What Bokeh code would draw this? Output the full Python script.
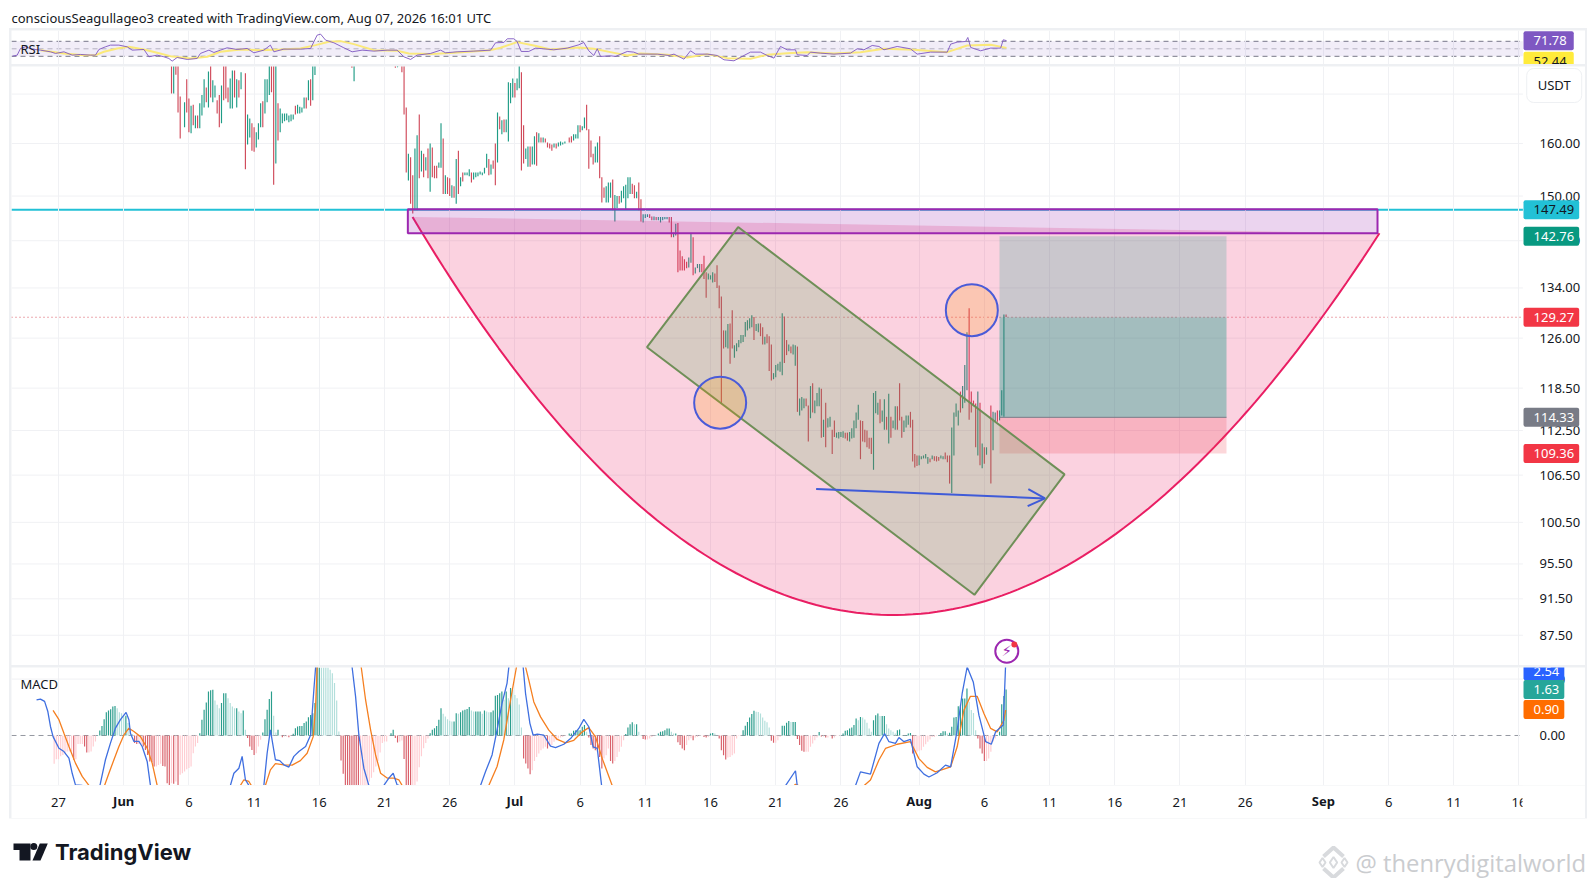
import math
from bokeh.plotting import figure
from bokeh.layouts import column
from bokeh.models import (Range1d, FixedTicker, Grid, Label, BoxAnnotation, Arrow, OpenHead, LinearAxis,
                          NumeralTickFormatter, ColumnDataSource)
from bokeh.core.properties import value
from bokeh.embed import file_html
from bokeh.resources import INLINE

FONT = "Noto Sans"
# ---------------- data ----------------
day_ticks = [0, 10, 15, 20, 25, 30, 40, 45, 50, 55, 60, 71, 76, 81, 86, 91, 102, 107, 112]
day_text = ["27", "6", "11", "16", "21", "26", "6", "11", "16", "21", "26", "6", "11", "16", "21", "26", "6", "11", "16"]
month_ticks = [5, 35, 66, 97]
month_text = ["Jun", "Jul", "Aug", "Sep"]
price_ticks = [170, 160, 150, 142, 134, 126, 118.5, 112.5, 106.5, 100.5, 95.5, 91.5, 87.5]
macd_ticks = [0, 2]

bar_slot = [*range(52, 57), *range(58, 85), *range(86, 119), 135, 136, 155, 156,
            *range(158, 234), *range(235, 428), *range(429, 437)]
bar_dir = ("rgrrr" + "grrgrgrggg" "rgrggrrgrr" "rggrgrg" + "rggrrgggrg" "ggrrgrgggg" "gggrggggrg" "rgg" + "rgrg"
           + "rrrgrrggrg" "rgrgrrrggr" "grrgrgrgrg" "ggrggggggg" "rgrrgrgrgg" "ggrggrrggr" "ggrgrgrrrr" "grgggg"
           + "rrgggrggrr" "rrggrrrggg" "rggrgggggr" "rgrrgggrrg" "rgggggrrgg" "rrrrrggrgg" "grrrgggrrr" "rrggrrgggg"
             "gggggrggrr" "grrrgggggr" "rgrggrgggr" "rgrgggrgrg" "grrggggrrg" "ggggrrrrrr" "gggrggrgrg" "grrrgggrrr"
             "rgggggrgrr" "rggrrrgggg" "rgggrrrrgr" "grg"
           + "rggrgggr")
bar_high = [178, 178, 178, 178, 169.5,
    168.3, 173.1, 169.1, 167.6, 167.8, 165.6, 165.6, 168.1, 169.8, 173.1,
    171.4, 174.8, 178, 172.9, 171.8, 168.7, 169.8, 171.8, 178, 178,
    171.4, 173.3, 175, 175, 173.1, 172.9, 174.6,
    174.4, 165.8, 165, 164, 163.2, 162.2, 164, 168.1, 168.5, 173.1,
    173.1, 178, 178, 178, 178, 168.1, 167, 166, 166, 166,
    165.6, 165.8, 165.8, 167.6, 167.8, 167.4, 167.2, 169.3, 169.3, 172.9,
    173.1, 178, 178,
    178, 178, 178, 178,
    178, 178, 167.2, 158, 157.3, 153.9, 159, 161.6, 165.8, 158.6,
    158, 157.3, 159, 160, 159.2, 155.7, 155.7, 156.3, 164, 161,
    153.9, 153.5, 153.3, 152, 151.8, 157, 158.6, 153.5, 154.4, 154.4,
    154.4, 155, 154.4, 154.4, 154.4, 154.4, 154.6, 154.4, 155.3, 158,
    157, 155.9, 156.7, 160, 166.2, 165.4, 164.6, 164.8, 164.8, 172.5,
    172.3, 173.3, 172.3, 173.3, 178, 174.6, 163.6, 159, 159.4, 159.4,
    159.4, 161.4, 162.2, 162, 161.2, 161.2, 161, 160.2, 160, 159.8,
    160, 160, 160.2, 160.4, 160.2, 160.4,
    161.2, 161.4, 161.8, 161.8, 163.6, 163.6, 163.4, 165.2, 167.8, 162.8,
    160.6, 158, 159.4, 160.2, 161.4, 153.5, 151.6, 151.8, 152.5, 152.5,
    153.1, 150.2, 150, 150, 151, 151.8, 152.1, 153.5, 153.5, 152.3,
    152, 150.8, 152.5, 149.4, 146.7, 146.7, 146.7, 146.7, 146.3, 146.3,
    146.2, 146.2, 146.2, 146.2, 146.2, 146.2, 146.2, 146.2, 143.4, 145,
    145.1, 140.3, 139.3, 138.8, 138.4, 139.1, 143.3, 142.6, 137.4, 138,
    138, 138, 139.4, 136.6, 136.4, 136.1, 136.6, 136.4, 137.8, 134.4,
    132.6, 127.2, 127.2, 128.2, 128.3, 130.4, 124.9, 125.2, 125.7, 126.5,
    126.5, 128.5, 128.8, 129.1, 129.6, 129.3, 128.2, 128.3, 128.3, 127.7,
    126.2, 126.6, 126.3, 125, 120.7, 121.9, 122.1, 122.4, 129.9, 129.4,
    125.7, 125, 124.7, 125, 124.9, 124.7, 117, 117.2, 117, 117,
    116, 118.8, 119.2, 116.7, 117.8, 118.6, 118.4, 114, 116.4, 114.2,
    114.4, 112.6, 113.9, 112.2, 112.3, 112.3, 112.4, 112.2, 112.2, 112.3,
    112.8, 113.9, 115, 116.1, 113.9, 113.8, 112.6, 112.5, 111.5, 111.5,
    117.8, 118.1, 116.4, 116.9, 115.3, 116.9, 114.4, 117.7, 114.4, 113.9,
    115.9, 115.9, 119.2, 114.4, 113.9, 114.6, 114.6, 115.1, 114, 109.3,
    109.1, 109.1, 109, 109.1, 109.3, 108.9, 108.7, 109.1, 109, 109,
    108.9, 109.1, 109, 109.5, 109.1, 109.1, 112.9, 115, 116.3, 115.3,
    118, 118.8, 121.9, 126.9, 130.7, 118, 116.7, 116.3, 118, 116.4,
    110.7, 110.2, 110.2,
    116, 115.1, 115, 115.3, 115.3, 118.2, 129.7, 129.7]
bar_low = [170.1, 170.1, 174.1, 166.2, 161.0,
    163.2, 166.2, 162.2, 162, 163.6, 163, 163, 163, 165.6, 167.2,
    168.3, 167.2, 169.3, 168.3, 169.3, 166, 163.2, 164, 168.7, 169.1,
    168.3, 167, 167, 169.3, 167.2, 169.3, 171,
    155, 159.8, 161.2, 158.6, 158.4, 159.2, 160.8, 163.2, 163.2, 166,
    168.3, 169.8, 170.4, 152.1, 156.1, 160.6, 162.2, 164, 164.4, 164.6,
    164.2, 164.4, 164.8, 165.8, 166, 166, 166.2, 167, 167, 168.7,
    167.6, 168.7, 174,
    175.6, 172.7, 175.6, 175.7,
    174.6, 165.8, 154.4, 152.9, 148.6, 146.8, 147.4, 147.4, 153.3, 154.6,
    153.5, 154.8, 153.3, 150.8, 153.5, 153.3, 153.3, 155.3, 155.3, 150.4,
    150.4, 150.4, 150, 149.7, 149.7, 148.6, 150.4, 151.8, 152.7, 153.9,
    153.9, 153.7, 152.5, 153.1, 153.5, 153.7, 154, 153.9, 154.2, 155.3,
    153.9, 154, 155.1, 152, 156.3, 162.8, 161.8, 162.2, 162.2, 160.4,
    168.1, 169.3, 169.3, 170.8, 171.2, 154.8, 156.1, 157, 155.5, 155.5,
    155.9, 155.9, 155.7, 160.2, 160.2, 160.2, 160.2, 159.2, 159, 158.6,
    159.2, 159, 159.4, 159.6, 159.8, 160,
    160.2, 160.2, 160.6, 161, 161, 162.2, 162.6, 163, 162.6, 155.1,
    157.3, 155.9, 156.3, 156.3, 153.3, 148.8, 149.7, 148.8, 148.8, 149.7,
    147.4, 145.4, 147.8, 148.6, 148.8, 149.6, 147.6, 149.6, 150.4, 150.4,
    149.6, 149.6, 147.4, 145.4, 145.2, 146, 146.2, 146, 145.6, 145.6,
    145.6, 145.6, 145.2, 145.6, 145.8, 145.8, 145.2, 142.6, 142.6, 142.9,
    136.6, 136.9, 136.9, 136.9, 137.3, 137.4, 138.2, 136.1, 136.4, 137.3,
    136.6, 136.6, 135.5, 132.4, 135.4, 135.4, 134.9, 135, 134, 130.7,
    116.3, 124.4, 124.6, 124.4, 122.1, 124.4, 123, 124, 124.6, 125.2,
    125.4, 126.2, 127.2, 127.5, 127.7, 125.7, 127.1, 126.9, 126.3, 125,
    125, 125.2, 121, 119.6, 119.8, 120.1, 121.1, 120.9, 120.4, 122.2,
    123.4, 124, 123.7, 123.5, 121.8, 115.1, 114.6, 115.3, 115.6, 115.9,
    111, 114.2, 115, 114.9, 115.9, 115.9, 111.5, 111.6, 110.2, 112.9,
    113, 109.3, 111.6, 111.5, 111.4, 111.6, 111.5, 111.4, 111.1, 111,
    111.4, 111.5, 112.8, 114, 108.6, 111, 110.9, 110.2, 110, 109.3,
    107.2, 114.9, 114.7, 113.5, 113.7, 112.6, 112.6, 110.7, 111.5, 112.8,
    112.6, 112.6, 113.9, 111.5, 112.3, 112.9, 113.3, 112.9, 108.3, 107.5,
    107.7, 107.8, 108.6, 108.7, 108.7, 108, 108.2, 108.6, 108.4, 108.3,
    108.4, 108.7, 108.6, 108.6, 108.2, 105.4, 104.2, 109.1, 114.4, 113.2,
    115, 115.6, 116.4, 118.2, 114, 115, 115.9, 110.2, 109.1, 107.8,
    107.4, 108, 109.2,
    105.4, 109.8, 113.7, 113.7, 113.9, 114.6, 114.4, 129.3]

rsi_slot = [-21.2, -19, -17.5, -15.2, -12.1, -8.3, -3.7, -1.4, 2.5, 6.3, 10.1, 14.7, 17, 18.6, 21.6, 23.9, 27.8, 31.6, 33.9, 39.3,
            41.6, 45.4, 48.5, 50.8, 52.3, 54.6, 59.2, 63.8, 65.3, 69.2, 71.5, 74.5, 77.6, 82.2, 86.8, 89.9, 94.5, 97.5, 99.1, 103.7,
            111.3, 116, 117.5, 119, 120.6, 122.9, 126.7, 131.3, 135.1, 139.7, 145.1, 151.2, 155.8, 158.9, 162, 165, 171.2, 175.8, 178.1, 183.4,
            191.1, 198.8, 201.1, 204.9, 206.5, 209.5, 211, 212.9, 216.4, 219.5, 223.3, 227.9, 234.1, 239.4, 241.7, 244, 246.3, 247.9, 249.4, 254,
            256.3, 261.7, 264.7, 267, 275.5, 280.9, 283.2, 287.8, 290.8, 293.1, 298.5, 303.1, 306.2, 310.8, 315.4, 318.4, 323, 326.1, 329.2, 332.2,
            335.3, 339.1, 339.9, 344.5, 346, 350.6, 356.8, 364.4, 367.5, 370.6, 374.4, 377.5, 379.8, 385.9, 392, 395.1, 401.2, 408.9, 410.5, 413.5,
            417.4, 418.4, 419.7, 424.3, 428.9, 433.5, 434.7, 436.2]
rsi_val = [30.4, 33.1, 50.9, 55.3, 49.1, 46.4, 42, 37.6, 42, 33.1, 34.9, 33.1, 33.1, 48.2, 55.3, 59.8, 59.8, 55.3, 46.4, 48.2,
           28.7, 33.1, 28.7, 24.2, 17.1, 26.9, 21.6, 24.2, 37.6, 46.4, 40.2, 46.4, 52.7, 48.2, 50.9, 39.3, 46.4, 59.8, 42, 49.1,
           49.1, 50.9, 68.7, 86.4, 89.1, 73.1, 66, 52.7, 42, 46.4, 43.8, 46.4, 46.4, 28.7, 21.6, 33.1, 37.6, 46.4, 39.3, 42,
           43.8, 46.4, 66, 66.9, 76.7, 76.7, 69.6, 42.9, 42.9, 51.8, 50, 47.3, 51.8, 60.7, 66.9, 44.7, 32.2, 50, 29.6, 31.3,
           29.6, 42.9, 41.1, 35.8, 35.8, 32.2, 35.8, 22.4, 44.7, 35.8, 35.8, 32.2, 20.7, 18, 32.2, 41.1, 41.1, 32.2, 25.1, 56.2,
           47.3, 47.3, 34, 32.2, 41.1, 38.4, 35.8, 38.4, 50, 47.3, 58.9, 56.2, 47.3, 56.2, 50, 35.8, 41.1, 41.1, 62.4, 67.8,
           69.6, 80.2, 53.6, 44.7, 51.8, 51.8, 74, 71.78]
rsi_ma_slot = [-8.3, 2.5, 11.7, 17, 20.9, 27, 32.4, 39.3, 45.4, 51.5, 60.7, 68.4, 74.5, 83.7, 92.9, 102.1, 111.3, 118.3, 124.4, 129.8,
               135.9, 145.1, 155.8, 161.2, 171.2, 181.9, 198.8, 203.4, 211, 218.7, 226.4, 239.4, 246.3, 254, 261.7, 267.8, 280.1, 289.3, 298.5, 307.7,
               318.4, 326.1, 335.3, 344.5, 356.8, 369, 379.8, 393.6, 408.9, 418.1, 428.9, 436.2]
rsi_ma_val = [46.4, 37.6, 33.1, 33.1, 42, 50.9, 55.3, 48.2, 39.3, 30.4, 24.2, 28.7, 42, 48.2, 46.4, 48.2, 50.9, 59.8, 68.7, 70.4,
              62.4, 46.4, 44.7, 37.6, 35.8, 39.3, 46.4, 52.7, 67.8, 58.9, 48.2, 53.6, 50, 41.1, 32.2, 37.6, 34, 26.9, 35.8, 25.1,
              23.3, 34, 38.4, 41.1, 37.6, 41.1, 50, 47.3, 41.1, 58.9, 60.7, 52.44]

hist_val = [-1.0, -.84, -.84, -.74, -.69, -.63, -.57, -.57, -.57, -.86, -.84, -.3, -.3, -.3, -.39, -.6, -.6, -.57, -.39, -.21, .02,
    .18, .34, .58, .82, .89, .93, 1.03, 1.05, .97, .82, .79, .67, .7, .44, .2, .05,
    -.27, -.3, -.3, -.3, -.39, -.51, -.69, -.92, -.95, -1.1, -1.1, -1.05, -1.0, -1.08, -1.1, -1.69, -1.8, -1.69, -1.71, -1.63, -1.8, -1.39, -1.34, -1.28, -1.2, -1.15, -1.1, -.63, -.39, -.27,
    .08, .56, .91, 1.17, 1.56, 1.6, 1.62, 1.24, 1.09, .97, 1.15, 1.5, 1.5, 1.32, 1.15, 1.03, .97, .97, .85, .79, .89, .2,
    -.09, -.39, -.51, -.69, -.63, -.39, -.15,
    .11, .58, .91, 1.29, 1.56, .7, .11, .2, .02,
    -.06, -.04, -.04, -.06, -.01,
    .06, .26, .32, .34, .34, .44, .5, .65, .73, .79, 1.15, 2.7, 2.9, 2.85, 2.8, 2.7, 2.55, 2.33, 2.21, 1.86, 1.24, .14,
    -.89, -1.36, -1.9, -2.2, -2.4, -2.6, -2.8, -3, -3.2, -3, -2.6, -2.2, -1.9, -1.63, -1.5, -1.3, -1.1, -.9, -.6, -.27, -.21, -.21, -.02,
    .08, .2, -.09, -.25, -.21, -.18, -.83, -1.8, -2.1, -2.15, -2.1, -1.9, -1.63, -1.13, -.74, -.45, -.27, -.11,
    .08, .2, .26, .34, .56, .97, .77, .67, .58, .52, .5, .5, .79, .77, .82, .89, .91, .94, 1.01, .89, .85, .85, .85, .85, .77, .89, .85, .82, .82, .89, 1.41, 1.44, 1.5, 1.56, 1.27, 1.56, 1.32, 1.68, 1.62, 1.44, 1.32, 1.1, .28,
    -.82, -.99, -1.17, -1.37, -1.23, -.9, -.76, -.64, -.52, -.46, -.4, -.46, -.38, -.34, -.22, -.17, -.11, -.07, -.05, -.02, -.01,
    .07, .07, .17, .19, .19, .19, .31, .37, .13,
    -.07, -.34, -.46, -.52, -.58, -.76, -1.17, -.82, -.7, -.46, -.9, -.99, -.9, -.76, -.58, -.4, -.17,
    .05, .28, .4, .47, .4, .4, .13, .02,
    -.12, -.14, -.14, -.11, -.05, -.02, .01,
    .07, .13, .15, .19, .25, .25, .13, .07, .07,
    -.24, -.34, -.46, -.52, -.34, -.17, -.1, -.17, -.07, -.05, -.02, -.01, -.05, -.07, -.05,
    .07, .09, .07, .01,
    -.11, -.52, -.7, -.85, -.78, -.76, -.7, -.64, -.11, -.02, -.01,
    .19, .35, .48, .64, .76, .88, .84, .83, .78, .64, .52, .47, .28,
    -.19, -.26, -.26, -.17, -.05,
    .35, .35, .45, .51, .48, .48, .48,
    -.12, -.34, -.54, -.58, -.58, -.58, -.4, -.28, -.17, -.07,
    .12, -.04, -.04, -.07, -.07, -.02, -.11, -.07, -.02, -.01, .01,
    .07, .17, .19, .25, .28, .37, .6, .54, .66, .64, .57, .45, .25, .13, .54, .72, .78, .69, .69, .69, .4, .25, .19, .13, .07, .19, .21, .01, .01, .02, .07, .09,
    -.64, -.58, -.58, -.54, -.52, -.4, -.31, -.22, -.14, -.05, -.05, -.02, .02,
    .09, .15, .15, .07, .1, .31, .64, .66, 1.04, 1.06, 1.31, 1.31, 1.67, 1.2, .9, .8, .19,
    -.11, -.46, -.64, -.9, -.9, -.82, -.58, -.22, -.11, .02,
    .13, 1.11, 1.4, 1.63]

macd_slot = [-10.1, -8.3, -6.4, -4.9, -3.7, -2.5, .2, 2.5, 4.8, 6.3, 7.8, 10.9, 12, 17.8, 19.3, 21.6, 23.9, 26.2, 28.5, 31.1,
             32.4, 33.1, 34.7, 37, 38.5, 40.8, 42.3, 45, 77, 79.1, 80.7, 83, 84.5, 86, 87.6, 90, 93, 94.5, 96, 97.5,
             99.8, 101.8, 103.7, 106, 108.3, 110.6, 113.7, 116, 117.5, 118.3, 120, 133, 135.1, 136.7, 138.2, 140.5, 142.8, 145, 148, 149.7,
             152, 154, 155.8, 156.6, 158, 192, 194.2, 196.5, 199.5, 201.8, 204.1, 206.4, 207.2, 209, 212, 213.8, 214.9, 216.9, 218.4, 220.3,
             223.3, 226.4, 228.7, 232.5, 235.6, 239.4, 241.7, 244, 246, 247.9, 249.9, 252, 332, 334.5, 339.1, 339.9, 342, 364, 366.7, 369,
             373.6, 377.5, 380.1, 382.1, 385.1, 386.7, 389, 392, 395.1, 398.2, 400.5, 404.3, 408.1, 410.5, 413.5, 415.8, 418.1, 420.9, 423.5, 426.6,
             429.2, 431.2, 434.7, 435.8]
macd_val = [1.26, 1.29, 1.21, .85, .32, -.04, -.45, -.57, -.8, -1.34, -1.75, -1.77, -2.2, -2.2, -1.69, -.86, -.27, .26, .56, .82,
            .56, .08, -.21, -.21, -.39, -.92, -1.77, -2.6, -2.3, -1.77, -1.34, -1.16, -.74, -1.57, -1.77, -2.3, -2.3, -1.77, -.63, .2,
            -.86, -.89, -1.04, -1.12, -.74, -.57, -.39, .02, 1.62, 2.42, 3.6, 3.5, 2.42, 1.38, .02, -1.16, -1.77, -2.2, -2.2, -1.77,
            -1.51, -1.34, -1.75, -1.77, -2.2, -2.2, -1.77, -1.28, -.69, .2, 1.15, 1.86, 2.42, 3.2, 3.2, 2.43, 1.49, .43, .01, .05,
            .01, -.38, -.43, -.31, -.11, .25, .57, .31, -.4, -.46, -1.78, -2.3, -2.4, -1.78, -1.25, -1.78, -2.3, -2.3, -1.78, -1.29,
            -1.37, -.28, .07, -.22, -.28, -.07, -.22, -.14, -1.11, -1.37, -1.47, -1.32, -1.05, -1.11, .19, 1.49, 2.43, 1.9, .72, -.22,
            -.31, .13, .37, 2.54]
signal_slot = [-2.5, .2, 2.5, 4.8, 7.8, 10.9, 14, 16, 19, 21.2, 23.2, 25.5, 27.8, 30.1, 32.4, 34.7, 37.7, 40.8, 43.1, 45.4,
               48, 75, 83.7, 85.3, 87.6, 88.7, 90, 93, 95.2, 97.5, 99.8, 103.7, 107.5, 111.3, 114.4, 117.2, 118.3, 119, 121, 137,
               139.3, 141.3, 143.6, 145.9, 148.2, 151.2, 154.3, 156.6, 158.1, 160, 193, 198, 201.8, 204.9, 208, 210.7, 212, 214.9, 216.4, 218.7,
               221.8, 225.6, 229.5, 233.3, 237.1, 241, 244, 247.1, 250.2, 254.8, 257, 332, 338.4, 339.1, 340.7, 343, 364, 370.6, 373.6, 377.5,
               380.5, 385.9, 392, 395.9, 399.7, 403.5, 410.5, 413.5, 416.6, 419.6, 422.7, 425.8, 428.9, 431.9, 435, 435.8]
signal_val = [.89, .56, .08, -.39, -.98, -1.45, -1.77, -2.2, -2.2, -1.77, -1.34, -.86, -.39, .02, .26, .14, -.04, -.45, -.98, -1.77,
              -2.4, -2.2, -1.77, -1.57, -1.63, -1.77, -2.1, -2.1, -1.77, -1.22, -1.0, -1.04, -1.05, -.89, -.63, -.04, 1.03, 2.42, 3.4, 3.4,
              2.42, 1.26, .2, -.69, -1.34, -1.51, -1.51, -1.57, -1.77, -2.1, -2.2, -1.77, -1.1, -.15, 1.26, 2.42, 3.3, 2.43, 1.96, 1.19,
              .66, .19, -.14, -.26, -.17, .13, .28, -.05, -.82, -1.78, -2.2, -2.3, -1.78, -1.73, -1.78, -2.2, -2.2, -1.78, -1.58, -.87,
              -.46, -.31, -.22, -.82, -1.13, -1.29, -1.11, -.4, .9, 1.39, 1.39, .78, .25, .13, .54, .9]

# drawings anchored in chart coordinates (day, price)
cup_days = [27.15, 63.1, 101.3]
cup_prices = [146.2, 55.6, 143.3]
zone_days = [26.79, 101.15]
zone_prices = [147.6, 143.3]
channel_days = [52.12, 77.15, 70.24, 45.13]
channel_prices = [144.4, 106.6, 91.95, 124.6]
circle_days = [50.74, 70.04]
circle_prices = [116.4, 130.4]
arrow_days = [58.1, 75.65]
arrow_prices = [104.7, 103.5]
pos_days = [72.16, 89.57]
pos_target, pos_close, pos_entry, pos_stop = 142.76, 129.27, 114.33, 109.36
level_price = 147.49

# ---------------- layout constants ----------------
X0, AXIS_X, GRID_END, X1 = -3.604, 112.04, 112.3, 117.1
X_RANGE = Range1d(X0, X1)
GRID = "#f0f1f4"
W = 1574
TEAL, RED = "#1f9c86", "#d04a5a"
LBLX = (1523 - 58) / 13.04


def label(p, day, y, text, bg=None, color="white", pad=(10, 5, 5, 5), size="13px", align="left", radius=2):
    lb = Label(x=day, y=y, text=text, text_font=FONT, text_font_size=size, text_color=color,
               text_baseline="middle", text_align=align, padding=pad, border_radius=radius)
    if bg:
        lb.background_fill_color = bg
    p.add_layout(lb)
    return lb


def style_pane(p):
    p.outline_line_color = None
    p.background_fill_color = "white"
    p.border_fill_color = "white"
    p.min_border_left = 0
    p.min_border_right = 0
    p.min_border_top = 0
    p.min_border_bottom = 0
    p.xgrid.visible = False
    p.ygrid.visible = False
    p.add_layout(Grid(dimension=0, ticker=FixedTicker(ticks=day_ticks + month_ticks), grid_line_color=GRID, grid_line_width=1))


def hlines(p, levels, **kw):
    p.segment(x0=[X0] * len(levels), x1=[GRID_END] * len(levels), y0=levels, y1=levels, level="underlay", **kw)


def price_axis(ax, ticks):
    ax.ticker = FixedTicker(ticks=ticks)
    ax.formatter = NumeralTickFormatter(format="0.00")
    ax.fixed_location = AXIS_X
    ax.axis_line_color = None
    ax.major_tick_line_color = None
    ax.minor_tick_line_color = None
    ax.major_label_standoff = 14
    ax.major_label_text_font = FONT
    ax.major_label_text_font_size = "13px"
    ax.major_label_text_color = "#131722"


# ---------------- header ----------------
head = figure(width=1580, height=22, x_range=(0, 1580), y_range=(22, 0), output_backend="svg",
              toolbar_location=None, x_axis_location=None, y_axis_location=None, min_border=0)
head.outline_line_color = None
head.xgrid.visible = False
head.ygrid.visible = False
head.text(x=[3], y=[9], text=["consciousSeagullageo3 created with TradingView.com, Aug 07, 2026 16:01 UTC"],
          text_font=value(FONT), text_font_size=value("13px"), text_color="#131722", text_baseline="middle")

# ---------------- RSI ----------------
rsi = figure(width=W, height=34, x_range=X_RANGE, y_range=Range1d(8.13, 98.8), output_backend="svg",
             toolbar_location=None, x_axis_location=None, y_axis_location=None)
style_pane(rsi)
rsi.add_layout(BoxAnnotation(left=X0, right=GRID_END, bottom=30, top=70, fill_color="#7e57c2", fill_alpha=0.11, line_color=None, level="underlay"))
hlines(rsi, [70, 30], line_color="#787b86", line_dash="5 4", line_width=1)
hlines(rsi, [50], line_color="#787b86", line_dash="5 4", line_width=1, line_alpha=0.5)
rsi.line([s / 6 for s in rsi_ma_slot], rsi_ma_val, line_color="#fbe97a", line_width=2)
rsi.line([s / 6 for s in rsi_slot], rsi_val, line_color="#7e57c2", line_width=1, line_alpha=0.9)
label(rsi, (20 - 58) / 13.04, 50, "RSI", color="#131722", pad=0)
label(rsi, LBLX, 16.9, "52.44", bg="#ffeb3b", color="#131722", pad=(10, 7, 5, 5))
label(rsi, LBLX, 71.78, "71.78", bg="#7e57c2", pad=(10, 7, 5, 5))

# ---------------- price ----------------
pp = figure(width=W, height=599, x_range=X_RANGE, y_range=Range1d(84.31, 175.85), y_axis_type="log",
            output_backend="svg", toolbar_location=None, x_axis_location=None, y_axis_location="right")
style_pane(pp)
price_axis(pp.yaxis[0], price_ticks)
hlines(pp, price_ticks, line_color=GRID, line_width=1)
hlines(pp, [level_price], line_color="#22c1d6", line_width=2)
hlines(pp, [pos_close], line_color="#d9535f", line_width=1, line_dash="1 3")

assert len(bar_slot) == len(bar_high) == len(bar_low) == len(bar_dir), (len(bar_slot), len(bar_high), len(bar_low), len(bar_dir))
src = ColumnDataSource(dict(x=[s / 6 for s in bar_slot], hi=bar_high, lo=bar_low,
                            c=[TEAL if d == "g" else RED for d in bar_dir]))
pp.segment(x0="x", y0="lo", x1="x", y1="hi", line_color="c", line_width=1.15, source=src)

# cup (quadratic curve between two anchors through a control anchor)
ts = [k / 120 for k in range(121)]
cup_x = [(1 - t) ** 2 * cup_days[0] + 2 * t * (1 - t) * cup_days[1] + t ** 2 * cup_days[2] for t in ts]
lp = [math.log(v) for v in cup_prices]
cup_y = [math.exp((1 - t) ** 2 * lp[0] + 2 * t * (1 - t) * lp[1] + t ** 2 * lp[2]) for t in ts]
pp.patch(cup_x, cup_y, fill_color="#e91e63", fill_alpha=0.2, line_color=None)
pp.line(cup_x, cup_y, line_color="#e91e63", line_width=2)

# purple zone
pp.quad(left=zone_days[0], right=zone_days[1], top=zone_prices[0], bottom=zone_prices[1], fill_color="#9c27b0",
        fill_alpha=0.2, line_color="#9c27b0", line_width=2)

# long position
pp.quad(left=pos_days[0], right=pos_days[1], top=pos_target, bottom=pos_close, fill_color="#089981", fill_alpha=0.2, line_color=None)
pp.quad(left=pos_days[0], right=pos_days[1], top=pos_close, bottom=pos_entry, fill_color="#089981", fill_alpha=0.36, line_color=None)
pp.quad(left=pos_days[0], right=pos_days[1], top=pos_entry, bottom=pos_stop, fill_color="#f23645", fill_alpha=0.2, line_color=None)
pp.segment(x0=pos_days[0], x1=pos_days[1], y0=pos_entry, y1=pos_entry, line_color="#787b86", line_width=1)

# channel
pp.patch(channel_days, channel_prices, fill_color="#4caf50", fill_alpha=0.2, line_color="#6f8f58", line_width=2)
# circles
pp.scatter(circle_days, circle_prices, marker="circle", size=52, fill_color="#ff9800", fill_alpha=0.2,
           line_color="#4a5bd8", line_width=2)
# arrow
pp.add_layout(Arrow(end=OpenHead(size=17, line_color="#3f5bd8", line_width=2), x_start=arrow_days[0], y_start=arrow_prices[0],
                    x_end=arrow_days[1], y_end=arrow_prices[1], line_color="#3f5bd8", line_width=2))
# flash icon
pp.scatter([72.72], [85.8], marker="circle", size=23, fill_color="white", fill_alpha=0.0, line_color="#9c27b0", line_width=2)
pp.text([72.72], [85.8], text=["⚡"], text_font=value("DejaVu Sans"), text_font_size=value("15px"), text_color="#9c27b0",
        text_align="center", text_baseline="middle")
pp.scatter([73.3], [86.5], marker="circle", size=6, fill_color="#f23645", line_color=None)

label(pp, LBLX, 147.49, "147.49", bg="#22c1d6", color="#131722")
label(pp, LBLX, 142.76, "142.76", bg="#089981")
label(pp, LBLX, 129.27, "129.27", bg="#f23645")
label(pp, LBLX, 114.33, "114.33", bg="#787b86")
label(pp, LBLX, 109.36, "109.36", bg="#f23645")
usdt = label(pp, 114.7, 171.8, "USDT", color="#131722", pad=(11, 11, 8, 8), align="center", radius=7)
usdt.background_fill_color = "white"
usdt.border_line_color = "#eef0f3"

# ---------------- MACD ----------------
mc = figure(width=W, height=118, x_range=X_RANGE, y_range=Range1d(-1.773, 2.411), output_backend="svg",
            toolbar_location=None, x_axis_location=None, y_axis_location="right")
style_pane(mc)
price_axis(mc.yaxis[0], macd_ticks)
hlines(mc, [2], line_color=GRID, line_width=1)

hist_slot = list(range(-2, -2 + len(hist_val)))
cols = []
prev = None
for v in hist_val:
    rising = prev is None or v >= prev
    if v >= 0:
        cols.append("#2a9d8c" if rising else "#b2dfdb")
    else:
        cols.append("#ffcdd2" if rising else "#d9606a")
    prev = v
mc.vbar(x=[s / 6 for s in hist_slot], top=hist_val, bottom=0, width=0.09, fill_color=cols, line_color=None)
hlines(mc, [0], line_color="#9598a1", line_dash="5 4", line_width=1)
mc.line([s / 6 for s in signal_slot], signal_val, line_color="#f57f20", line_width=1.3)
mc.line([s / 6 for s in macd_slot], macd_val, line_color="#3f6fe0", line_width=1.3)
label(mc, (20 - 58) / 13.04, 1.81, "MACD", color="#131722", pad=0)
label(mc, LBLX, 2.28, "2.54", bg="#2962ff", pad=(10, 5, 5, 4))
label(mc, LBLX, 1.63, "1.63", bg="#26a69a", pad=(10, 5, 5, 5))
label(mc, LBLX, 0.92, "0.90", bg="#ff6d00", pad=(10, 5, 5, 5))

# ---------------- time axis ----------------
tx = figure(width=W, height=33, x_range=X_RANGE, y_range=Range1d(0, 1), output_backend="svg",
            toolbar_location=None, x_axis_location=None, y_axis_location=None)
tx.outline_line_color = None
tx.xgrid.visible = False
tx.ygrid.visible = False
tx.min_border_left = tx.min_border_right = tx.min_border_top = tx.min_border_bottom = 0
for ticks, texts, weight, standoff in ((day_ticks, day_text, "normal", 6), (month_ticks, month_text, "bold", 0)):
    ax = LinearAxis(ticker=FixedTicker(ticks=ticks), fixed_location=1,
                    major_label_overrides={d: t for d, t in zip(ticks, texts)},
                    axis_line_color=None, major_tick_line_color=None, minor_tick_line_color=None,
                    major_label_standoff=standoff, major_label_text_font=FONT, major_label_text_font_size="13px",
                    major_label_text_color="#131722", major_label_text_font_style=weight)
    tx.add_layout(ax, "below")
tx.add_layout(BoxAnnotation(left=(1522 - 58) / 13.04, right=X1, bottom=0, top=1, fill_color="white", fill_alpha=1,
                            line_color=None, level="overlay"))

# ---------------- footer ----------------
foot = figure(width=1580, height=60, x_range=(0, 1580), y_range=(60, 0), output_backend="svg",
              toolbar_location=None, x_axis_location=None, y_axis_location=None, min_border=0)
foot.outline_line_color = None
foot.xgrid.visible = False
foot.ygrid.visible = False
foot.patch([5, 22, 22, 11, 11, 5], [25, 25, 42, 42, 31.5, 31.5], fill_color="#131722", line_color=None)
foot.scatter([25.3], [28], marker="circle", size=7, fill_color="#131722", line_color=None)
foot.patch([31.3, 39.3, 32, 24], [25, 25, 42, 42], fill_color="#131722", line_color=None)
foot.text([46.5], [33.5], text=["TradingView"], text_font=value("Inter"), text_font_size=value("22px"), text_font_style="bold",
          text_color="#131722", text_baseline="middle")
# watermark emblem
foot.scatter([1325], [44], marker="diamond", size=11, fill_color=None, line_color="#d8dadd", line_width=2)
foot.scatter([1314, 1336], [44, 44], marker="diamond", size=9, fill_color=None, line_color="#d8dadd", line_width=2)
foot.multi_line([[1315, 1325, 1335], [1315, 1325, 1335]], [[38, 29, 38], [50, 59, 50]], line_color="#d8dadd", line_width=4)
foot.text([1347], [44], text=["@ thenrydigitalworld"], text_font=value("Open Sans"), text_font_size=value("23.8px"),
          text_color="#cacccf", text_baseline="middle")

lower = column(mc, tx, spacing=0)
panes = column(rsi, pp, lower, spacing=2, margin=(0, 0, 0, 3),
               styles={"background": "#eef0f3", "outline": "2px solid #eef0f3"})
page = column(head, panes, foot, spacing=0, margin=(8, 0, 0, 8))
open("out.html", "w").write(file_html(page, INLINE))
